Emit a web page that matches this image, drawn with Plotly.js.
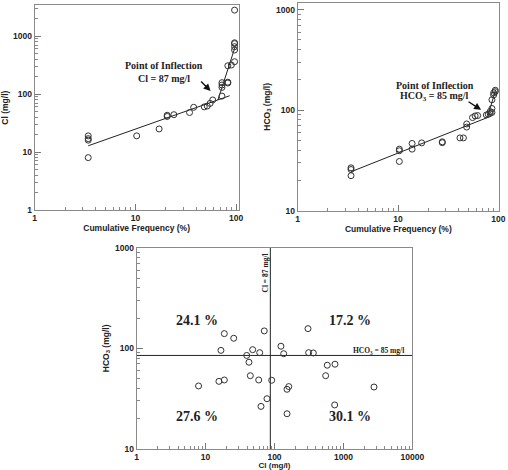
<!DOCTYPE html>
<html>
<head>
<meta charset="utf-8">
<script src="https://cdn.plot.ly/plotly-3.0.1.min.js"></script>
<style>
  html, body { margin: 0; padding: 0; background: #fff; }
  #chart { width: 508px; height: 470px; }
</style>
</head>
<body>
<div id="chart"></div>
<script>
// Cumulative frequency of chloride (%, mg/l)
const clFreq = [3.4, 3.4, 3.4, 3.4, 10.3, 17.2, 20.7, 20.7, 24.1, 34.5, 37.9, 48.3, 51.7, 55.2, 58.6,
                72.4, 72.4, 72.4, 72.4, 82.8, 82.8, 82.8, 89.7, 96.6, 96.6, 96.6, 96.6, 96.6, 96.6];
const clConc = [19, 17, 16, 8, 19, 25, 41, 43, 44, 48, 59, 60, 62, 69, 79,
                92, 130, 143, 157, 155, 160, 307, 316, 361, 574, 655, 740, 766, 2800];
// Two fitted segments either side of the inflection
const clFitLowX = [3.4, 86.4];
const clFitLowY = [12.8, 93.5];
const clFitHighX = [66, 98];
const clFitHighY = [79, 655];

// Cumulative frequency of bicarbonate (%, mg/l)
const hcoFreq = [3.4, 3.4, 3.4, 10.3, 10.3, 10.3, 13.8, 13.8, 17.2, 27.6, 27.6, 41.4, 44.8, 48.3, 48.3,
                 55.2, 58.6, 62.1, 75.9, 79.3, 82.8, 82.8, 86.2, 86.2, 86.2, 89.7, 89.7, 93.1, 93.1];
const hcoConc = [26.7, 25.7, 22.3, 41, 39.5, 30.9, 46.7, 41, 47.3, 48.5, 47.5, 53, 53, 73, 68,
                 84.5, 87.7, 88.5, 89.8, 91, 93, 97, 104, 95, 127, 142, 149, 153, 158];
const hcoFitLowX = [3.4, 77.6];
const hcoFitLowY = [24.4, 84.5];
const hcoFitHighX = [77.6, 94];
const hcoFitHighY = [84.5, 160];

// Sample pairs: Cl vs HCO3 (mg/l)
const pairCl = [7.9, 15.6, 18.7, 16.7, 18.7, 25.6, 39.5, 48.2, 42.6, 44.6, 61, 59, 71, 63.7, 77.8,
                91, 124, 136, 152, 161, 152, 306, 313, 366, 583, 553, 755, 747, 2780];
const pairHco = [42.3, 47, 48.5, 95.5, 140, 126, 85, 97, 72.8, 53.5, 90.6, 48.5, 149, 26.5, 31.6,
                 48.2, 105, 88.5, 39.2, 41.7, 22.4, 157, 90.6, 90, 68, 53.5, 69.6, 27.4, 41.3];

// Thresholds from the inflection points
const clThreshold = 87;
const hcoThreshold = 85;
const quadrantShares = ['24.1 %', '17.2 %', '27.6 %', '30.1 %'];

const tickFont = {family: 'Liberation Sans, Arial, sans-serif', size: 8.5, weight: 'bold', color: '#222'};
const titleFont = {family: 'Liberation Sans, Arial, sans-serif', size: 8.5, weight: 'bold', color: '#222'};
const serifBold = {family: 'Liberation Serif, Times New Roman, serif', weight: 'bold', color: '#222'};

const marker = {symbol: 'circle-open', size: 6, color: '#333', line: {width: 1, color: '#333'}};
const fitLine = {color: '#222', width: 1};

function pts(x, y, xa, ya) {
  return {x: x, y: y, xaxis: xa, yaxis: ya, type: 'scatter', mode: 'markers', marker: marker,
          hoverinfo: 'x+y', showlegend: false};
}
function seg(x, y, xa, ya) {
  return {x: x, y: y, xaxis: xa, yaxis: ya, type: 'scatter', mode: 'lines', line: fitLine,
          hoverinfo: 'skip', showlegend: false};
}

const traces = [
  seg(clFitLowX, clFitLowY, 'x', 'y'),
  seg(clFitHighX, clFitHighY, 'x', 'y'),
  pts(clFreq, clConc, 'x', 'y'),
  seg(hcoFitLowX, hcoFitLowY, 'x2', 'y2'),
  seg(hcoFitHighX, hcoFitHighY, 'x2', 'y2'),
  pts(hcoFreq, hcoConc, 'x2', 'y2'),
  // quadrant dividers
  seg([clThreshold, clThreshold], [10, 1000], 'x3', 'y3'),
  seg([1, 10000], [hcoThreshold, hcoThreshold], 'x3', 'y3'),
  pts(pairCl, pairHco, 'x3', 'y3')
];

function logAxis(domain, range, anchor, title, standoff, tSize) {
  return {
    type: 'log', domain: domain, range: range, anchor: anchor,
    showline: true, linecolor: '#8a8a8a', linewidth: 1, mirror: true,
    showgrid: false, zeroline: false,
    dtick: 1, tickformat: 'd',
    ticks: 'inside', ticklen: 6, tickwidth: 1, tickcolor: '#777',
    minor: {ticks: 'inside', ticklen: 3, tickwidth: 1, tickcolor: '#888', dtick: 'D1', showgrid: false},
    tickfont: tickFont,
    title: {text: title, font: Object.assign({}, titleFont, {size: tSize || 8.5}), standoff: standoff}
  };
}

// centred text placed in figure pixels
function label(px, py, text, size, angle) {
  return {xref: 'paper', yref: 'paper', x: px / W, y: 1 - py / H, xanchor: 'center', yanchor: 'middle',
          text: text, textangle: angle || 0, showarrow: false, font: Object.assign({size: size}, serifBold)};
}

const W = 508, H = 470;
const layout = {
  width: W, height: H,
  margin: {l: 0, r: 0, t: 0, b: 0},
  paper_bgcolor: '#fff', plot_bgcolor: '#fff',
  showlegend: false,
  xaxis: logAxis([34.7 / W, 238.6 / W], [0, 2.025], 'y', 'Cumulative Frequency (%)', 2),
  yaxis: logAxis([1 - 210 / H, 1 - 5.3 / H], [0, 3.53], 'x', 'Cl (mg/l)', 4),
  xaxis2: logAxis([297.7 / W, 499 / W], [0, 2.006], 'y2', 'Cumulative Frequency (%)', 2),
  yaxis2: logAxis([1 - 210.7 / H, 1 - 3 / H], [1, 3.067], 'x2', 'HCO<sub>3</sub> (mg/l)', 4),
  xaxis3: logAxis([136.7 / W, 412.3 / W], [0, 4], 'y3', 'Cl (mg/l)', 0, 8),
  yaxis3: logAxis([1 - 449 / H, 1 - 247.7 / H], [1, 3], 'x3', 'HCO<sub>3</sub> (mg/l)', 4),
  annotations: [
    label(164, 66, 'Point of Inflection', 10),
    label(164, 79, 'Cl = ' + clThreshold + ' mg/l', 10),
    {xref: 'x', yref: 'y', x: 1.747, y: 2.052, ax: -11, ay: -11, text: '',
     showarrow: true, arrowhead: 2, arrowsize: 1, arrowwidth: 1.4, arrowcolor: '#111'},
    label(435, 85.5, 'Point of Inflection', 10),
    label(434, 96.5, 'HCO<sub>3</sub> = ' + hcoThreshold + ' mg/l', 10),
    {xref: 'x2', yref: 'y2', x: 1.8275, y: 2.004, ax: -14, ay: -9, text: '',
     showarrow: true, arrowhead: 2, arrowsize: 1, arrowwidth: 1.4, arrowcolor: '#111'},
    // quadrant shares
    label(196.7, 320, quadrantShares[0], 14),
    label(350, 320, quadrantShares[1], 14),
    label(196.7, 416, quadrantShares[2], 14),
    label(350, 416, quadrantShares[3], 14),
    // divider labels
    label(264.5, 273, 'Cl = ' + clThreshold + ' mg/l', 7.5, -90),
    label(378, 350.5, 'HCO<sub>3</sub> = ' + hcoThreshold + ' mg/l', 7.5)
  ]
};

Plotly.newPlot('chart', traces, layout, {staticPlot: true, displayModeBar: false});
</script>
</body>
</html>
